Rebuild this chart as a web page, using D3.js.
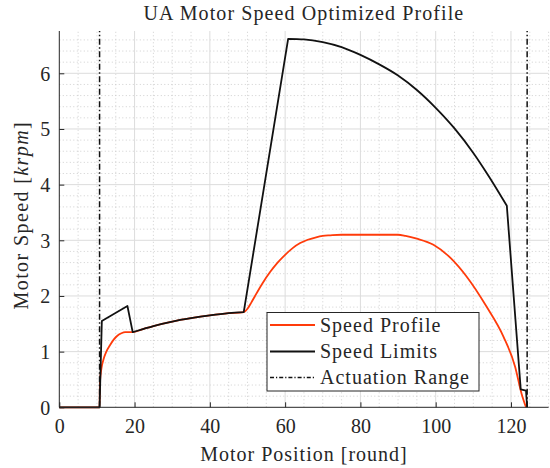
<!DOCTYPE html>
<html><head><meta charset="utf-8">
<script src="https://cdn.jsdelivr.net/npm/d3@7"></script>
<style>
body{margin:0;background:#fff}
text{font-family:"Liberation Serif","Times New Roman",serif;fill:#262626}
</style>
</head><body>
<svg id="c" width="550" height="468"></svg>
<script>
// ---- data ----
const xTicks = [0, 20, 40, 60, 80, 100, 120];
const yTicks = [0, 1, 2, 3, 4, 5, 6];
const xDomain = [0, 130];
const yDomain = [0, 6.76];

const limitX = [0, 10.7, 11.3, 18.1, 19.5, 22, 25, 30, 35, 40, 45, 49, 60.8, 65, 70, 75, 80, 85, 90, 95, 100, 105, 110, 114.4, 118.9, 122.6, 124.0, 124.3];
const limitY = [0, 0, 1.55, 1.82, 1.35, 1.40, 1.46, 1.54, 1.60, 1.65, 1.69, 1.71, 6.62, 6.61, 6.56, 6.47, 6.33, 6.16, 5.96, 5.70, 5.38, 5.01, 4.57, 4.12, 3.62, 0.32, 0.30, 0];
// indices where the limit curve has sharp corners
const limitCorners = [1, 2, 3, 4, 11, 12, 24, 25, 26];

const profX = [0, 10.7, 10.8, 11.2, 11.7, 12.5, 13.5, 14.5, 15.5, 16.5, 17.5, 19.5, 22, 25, 30, 35, 40, 45, 49, 50, 51, 52, 54, 56, 58, 60, 62, 64, 66, 68, 70, 72, 75, 80, 85, 90, 92, 95, 99.4, 104, 108.2, 113.5, 118, 121.1, 122.8, 124.0];
const profY = [0, 0, 0.45, 0.70, 0.85, 1.00, 1.12, 1.22, 1.29, 1.33, 1.35, 1.35, 1.40, 1.46, 1.54, 1.60, 1.65, 1.69, 1.71, 1.77, 1.88, 2.00, 2.23, 2.43, 2.60, 2.74, 2.86, 2.95, 3.01, 3.05, 3.08, 3.09, 3.10, 3.10, 3.10, 3.10, 3.08, 3.03, 2.92, 2.68, 2.35, 1.81, 1.27, 0.73, 0.25, 0];

const actuationRange = [10.7, 124.3];
const legendLabels = ["Speed Profile", "Speed Limits", "Actuation Range"];

// ---- layout ----
const svg = d3.select("#c");
const L = 59.3, R = 548.6, T = 31, B = 407.3;
const x = d3.scaleLinear().domain(xDomain).range([L, R]);
const y = d3.scaleLinear().domain(yDomain).range([B, T]);
const orange = "#ff3b0a";

// minor grid
const g = svg.append("g");
const xMinor = d3.range(0, xDomain[1] + 0.001, 5).filter(v => !xTicks.includes(v));
const yMinor = d3.range(0, yDomain[1], 0.2).filter(v => Math.abs(v - Math.round(v)) > 1e-6);
g.selectAll(".xm").data(xMinor).join("line")
  .attr("x1", d => x(d)).attr("x2", d => x(d)).attr("y1", B).attr("y2", T)
  .attr("stroke", "#c4c4c4").attr("stroke-width", 0.8).attr("stroke-dasharray", "1,2.5");
g.selectAll(".ym").data(yMinor).join("line")
  .attr("x1", L).attr("x2", R).attr("y1", d => y(d)).attr("y2", d => y(d))
  .attr("stroke", "#c4c4c4").attr("stroke-width", 0.8).attr("stroke-dasharray", "1,2.5");
// major grid
g.selectAll(".xg").data(xTicks.filter(v => v > 0)).join("line")
  .attr("x1", d => x(d)).attr("x2", d => x(d)).attr("y1", B).attr("y2", T)
  .attr("stroke", "#dcdcdc").attr("stroke-width", 1);
g.selectAll(".yg").data(yTicks.filter(v => v > 0)).join("line")
  .attr("x1", L).attr("x2", R).attr("y1", d => y(d)).attr("y2", d => y(d))
  .attr("stroke", "#dcdcdc").attr("stroke-width", 1);

// curves
const profPts = profX.map((v, i) => [v, profY[i]]);
const limPts = limitX.map((v, i) => [v, limitY[i]]);
const smooth = d3.line().x(d => x(d[0])).y(d => y(d[1])).curve(d3.curveMonotoneX);
svg.append("path").datum(profPts)
  .attr("d", smooth).attr("fill", "none")
  .attr("stroke", orange).attr("stroke-width", 1.8).attr("stroke-linejoin", "round");
// limit: smooth pieces joined at sharp corners
const bounds = [0, ...limitCorners, limPts.length - 1];
let dLim = "";
for (let k = 0; k < bounds.length - 1; k++) {
  const seg = limPts.slice(bounds[k], bounds[k + 1] + 1);
  const s = smooth(seg);
  dLim += k === 0 ? s : "L" + s.slice(1);
}
svg.append("path").attr("d", dLim).attr("fill", "none")
  .attr("stroke", "#111").attr("stroke-width", 1.8).attr("stroke-linejoin", "round");
svg.selectAll(".act").data(actuationRange).join("line")
  .attr("x1", d => x(d)).attr("x2", d => x(d)).attr("y1", B).attr("y2", T)
  .attr("stroke", "#111").attr("stroke-width", 1.5).attr("stroke-dasharray", "6,2.5,1.5,2.5");

// axes
const xAxis = d3.axisBottom(x).tickValues(xTicks).tickFormat(d3.format("d")).tickSizeInner(-5).tickSizeOuter(0);
const yAxis = d3.axisLeft(y).tickValues(yTicks).tickFormat(d3.format("d")).tickSizeInner(-5).tickSizeOuter(0);
const gx = svg.append("g").attr("transform", `translate(0,${B})`).call(xAxis);
const gy = svg.append("g").attr("transform", `translate(${L},0)`).call(yAxis);
[gx, gy].forEach(a => {
  a.select(".domain").attr("stroke", "#262626").attr("stroke-width", 1);
  a.selectAll(".tick line").attr("stroke", "#262626").attr("stroke-width", 1);
  a.selectAll(".tick text").attr("font-family", '"Liberation Serif", serif').attr("font-size", 20).attr("fill", "#262626");
});
gx.select(".domain").attr("d", `M${L},0H${R}`);
gy.select(".domain").attr("d", `M0,${B}V${T}`);
gx.selectAll(".tick text").attr("dy", "0.71em").attr("y", 12);
gy.selectAll(".tick text").attr("x", -9).attr("dy", "0.34em");

// titles
svg.append("text").attr("x", (L + R) / 2).attr("y", 20).attr("text-anchor", "middle")
  .attr("font-size", 20).attr("letter-spacing", 1.1).attr("fill", "#111").text("UA Motor Speed Optimized Profile");
svg.append("text").attr("x", (L + R) / 2).attr("y", 461).attr("text-anchor", "middle")
  .attr("font-size", 20).attr("letter-spacing", 1).text("Motor Position [round]");
const yl = svg.append("text").attr("transform", `translate(28,${(T + B) / 2 - 4}) rotate(-90)`)
  .attr("text-anchor", "middle").attr("font-size", 20).attr("letter-spacing", 1.4);
yl.append("tspan").text("Motor Speed [");
yl.append("tspan").attr("font-style", "italic").text("krpm");
yl.append("tspan").text("]");

// legend
const lg = svg.append("g");
lg.append("rect").attr("x", 267).attr("y", 312.5).attr("width", 212).attr("height", 78.5)
  .attr("fill", "#fff").attr("stroke", "#262626").attr("stroke-width", 1);
const rowY = [325, 351.5, 377.5];
const styles = [{c: orange, d: null, w: 1.8}, {c: "#111", d: null, w: 1.8}, {c: "#111", d: "4,2,1.2,2", w: 1.4}];
legendLabels.forEach((t, i) => {
  lg.append("line").attr("x1", 270).attr("x2", 315).attr("y1", rowY[i]).attr("y2", rowY[i])
    .attr("stroke", styles[i].c).attr("stroke-width", styles[i].w)
    .attr("stroke-dasharray", styles[i].d);
  lg.append("text").attr("x", 320).attr("y", rowY[i]).attr("dy", "0.33em")
    .attr("font-size", 20).attr("letter-spacing", 1).attr("fill", "#111").text(t);
});
</script>
</body></html>
